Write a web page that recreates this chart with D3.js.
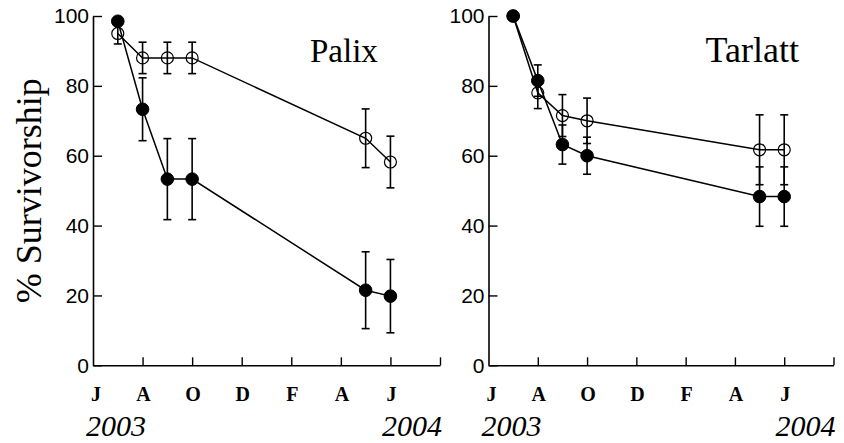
<!DOCTYPE html>
<html><head><meta charset="utf-8">
<script src="https://cdn.jsdelivr.net/npm/d3@7/dist/d3.min.js"></script>
<style>
html,body{margin:0;padding:0;background:#fff;}
svg{display:block;}
</style></head>
<body>
<script>
// ---- data ----
const sampleMonths = [1, 2, 3, 4, 11, 12]; // months after June 2003
const monthTicks = [0, 2, 4, 6, 8, 10, 12];
const monthLabels = ["J", "A", "O", "D", "F", "A", "J"];
const yTicks = [0, 20, 40, 60, 80, 100];
const yearLabels = ["2003", "2004"];
const panelNames = ["Palix", "Tarlatt"];

const palixFilled = [98.5, 73.3, 53.3, 53.3, 21.5, 19.8];
const palixFilledErr = [0, 9, 11.6, 11.6, 11, 10.5];
const palixOpen = [95, 88, 88, 88, 65, 58.2];
const palixOpenErr = [3, 4.5, 4.5, 4.5, 8.4, 7.4];

const tarlattFilled = [100, 81.5, 63.2, 60, 48.3, 48.3];
const tarlattFilledErr = [0, 4.5, 5.6, 5.3, 8.5, 8.5];
const tarlattOpen = [100, 78, 71.5, 70, 61.7, 61.7];
const tarlattOpenErr = [0, 4.5, 6, 6.5, 10, 10];

const panels = [
  {name: panelNames[0], filled: palixFilled, filledErr: palixFilledErr, open: palixOpen, openErr: palixOpenErr, x0: 93, x1: 440, titleSize: 33},
  {name: panelNames[1], filled: tarlattFilled, filledErr: tarlattFilledErr, open: tarlattOpen, openErr: tarlattOpenErr, x0: 488.5, x1: 833.5, titleSize: 36}
];

const W = 844, H = 443;
const svg = d3.select("body").append("svg").attr("width", W).attr("height", H);

const yTop = 16, yBot = 365.3;
const y = d3.scaleLinear().domain([0, 100]).range([yBot, yTop]);

// y axis title
svg.append("text")
  .attr("transform", `translate(41,${(yTop + yBot) / 2}) rotate(-90)`)
  .attr("text-anchor", "middle")
  .attr("font-family", "Liberation Serif, Times New Roman, serif")
  .attr("font-size", 36)
  .text("% Survivorship");

panels.forEach(p => {
  const x = d3.scaleLinear().domain([0, 14]).range([p.x0, p.x1]);
  const g = svg.append("g");

  // y axis
  const ya = g.append("g").attr("transform", `translate(${p.x0},0)`)
    .call(d3.axisLeft(y).tickValues(yTicks).tickSizeInner(-9).tickSizeOuter(0).tickPadding(4));
  ya.select(".domain").attr("stroke", "#000").attr("stroke-width", 1.6);
  ya.selectAll(".tick line").attr("stroke", "#000").attr("stroke-width", 1.4);
  ya.selectAll(".tick text")
    .attr("font-family", "Liberation Sans, Arial, sans-serif")
    .attr("font-size", 21).attr("fill", "#000");

  // x axis (ticks only, pointing up)
  const xa = g.append("g").attr("transform", `translate(0,${yBot})`)
    .call(d3.axisBottom(x).tickValues([2, 4, 6, 8, 10, 12, 14]).tickSizeInner(-8).tickSizeOuter(0).tickFormat(""));
  xa.select(".domain").attr("stroke", "#000").attr("stroke-width", 1.6);
  xa.selectAll(".tick line").attr("stroke", "#000").attr("stroke-width", 1.4);

  // month labels
  g.selectAll("text.month").data(monthTicks).enter().append("text")
    .attr("class", "month")
    .attr("x", (d, i) => x(d) + (i === 0 ? 3 : 1))
    .attr("y", 401)
    .attr("text-anchor", "middle")
    .attr("font-family", "Liberation Serif, Times New Roman, serif")
    .attr("font-weight", "bold")
    .attr("font-size", 20)
    .text((d, i) => monthLabels[i]);

  // year labels
  g.append("text").attr("x", p.x0 - 7).attr("y", 436)
    .attr("font-family", "Liberation Serif, Times New Roman, serif")
    .attr("font-style", "italic").attr("font-size", 30).text(yearLabels[0]);
  g.append("text").attr("x", p.x1 + 2).attr("y", 436).attr("text-anchor", "end")
    .attr("font-family", "Liberation Serif, Times New Roman, serif")
    .attr("font-style", "italic").attr("font-size", 30).text(yearLabels[1]);

  // panel title
  g.append("text").attr("x", p.x0 + 217).attr("y", 62)
    .attr("font-family", "Liberation Serif, Times New Roman, serif")
    .attr("font-size", p.titleSize).text(p.name);

  const line = d3.line().x(d => x(d.m)).y(d => y(d.v));
  const mk = (vals, errs) => sampleMonths.map((m, i) => ({m, v: vals[i], e: errs[i]}));
  const openData = mk(p.open, p.openErr);
  const filledData = mk(p.filled, p.filledErr);

  [openData, filledData].forEach(data => {
    g.append("path").datum(data).attr("d", line)
      .attr("fill", "none").attr("stroke", "#000").attr("stroke-width", 1.5);
    const eb = g.append("g").selectAll("g").data(data.filter(d => d.e > 0)).enter().append("g");
    eb.append("line").attr("x1", d => x(d.m)).attr("x2", d => x(d.m))
      .attr("y1", d => y(d.v + d.e)).attr("y2", d => y(d.v - d.e))
      .attr("stroke", "#000").attr("stroke-width", 1.6);
    [1, -1].forEach(s => {
      eb.append("line").attr("x1", d => x(d.m) - 4).attr("x2", d => x(d.m) + 4)
        .attr("y1", d => y(d.v + s * d.e)).attr("y2", d => y(d.v + s * d.e))
        .attr("stroke", "#000").attr("stroke-width", 1.6);
    });
  });

  g.append("g").selectAll("circle").data(openData).enter().append("circle")
    .attr("cx", d => x(d.m)).attr("cy", d => y(d.v)).attr("r", 6)
    .attr("fill", "none").attr("stroke", "#000").attr("stroke-width", 1.2);
  g.append("g").selectAll("circle").data(filledData).enter().append("circle")
    .attr("cx", d => x(d.m)).attr("cy", d => y(d.v)).attr("r", 6.3)
    .attr("fill", "#000").attr("stroke", "#000").attr("stroke-width", 1);
});
</script>
</body></html>
